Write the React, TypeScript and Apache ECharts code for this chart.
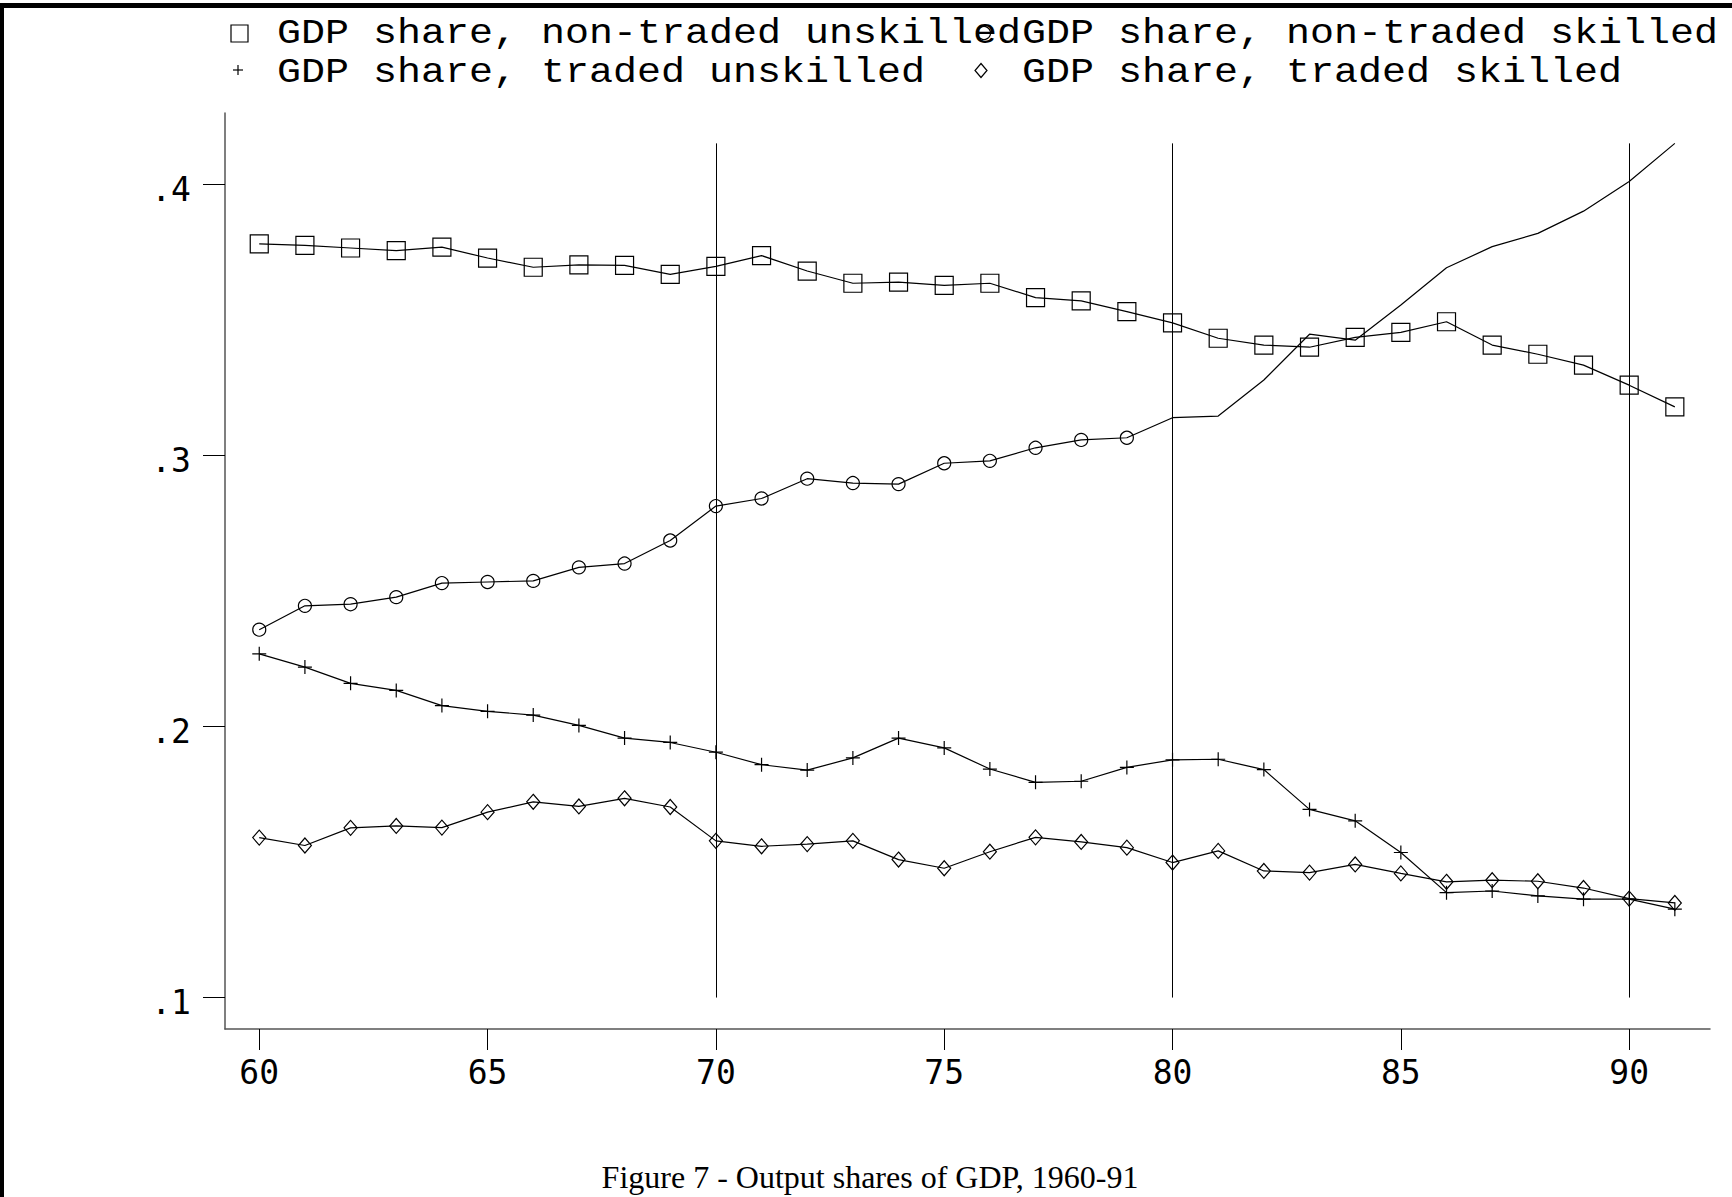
import React, { useEffect, useRef } from 'react';
import * as echarts from 'echarts';

const years = [60, 61, 62, 63, 64, 65, 66, 67, 68, 69, 70, 71, 72, 73, 74, 75, 76, 77, 78, 79, 80, 81, 82, 83, 84, 85, 86, 87, 88, 89, 90, 91];

const nonTradedUnskilled = [0.378, 0.3775, 0.3765, 0.3755, 0.3768, 0.3728, 0.3694, 0.3703, 0.3701, 0.3668, 0.3697, 0.3737, 0.368, 0.3635, 0.3639, 0.3627, 0.3635, 0.3582, 0.357, 0.353, 0.3489, 0.3432, 0.3407, 0.3399, 0.3435, 0.3454, 0.3493, 0.3407, 0.3373, 0.3333, 0.3259, 0.3179];
const nonTradedSkilled = [0.2357, 0.2445, 0.2451, 0.2477, 0.2529, 0.2533, 0.2537, 0.2587, 0.2601, 0.2686, 0.2813, 0.2841, 0.2914, 0.2898, 0.2894, 0.2971, 0.298, 0.3028, 0.3057, 0.3065, 0.3139, 0.3145, 0.3278, 0.3447, 0.3425, 0.3555, 0.3692, 0.377, 0.3819, 0.3901, 0.401, 0.4151];
const tradedUnskilled = [0.2268, 0.2219, 0.2159, 0.2133, 0.2077, 0.2056, 0.2042, 0.2004, 0.1957, 0.1941, 0.1905, 0.1859, 0.1839, 0.1884, 0.1957, 0.1921, 0.1843, 0.1794, 0.1798, 0.1849, 0.1877, 0.1879, 0.1841, 0.1694, 0.1652, 0.1535, 0.1387, 0.1393, 0.1375, 0.1363, 0.1363, 0.1326];
const tradedSkilled = [0.159, 0.1561, 0.1626, 0.1633, 0.1627, 0.1684, 0.1722, 0.1705, 0.1735, 0.1703, 0.1578, 0.1558, 0.1566, 0.1578, 0.1509, 0.1477, 0.1538, 0.1591, 0.1574, 0.1553, 0.1498, 0.1541, 0.1467, 0.1461, 0.1491, 0.1458, 0.1427, 0.1433, 0.1429, 0.1404, 0.1365, 0.1349];

// the non-traded skilled series carries markers only up to this year
const skilledMarkerLastYear = 79;

const seriesNames = [
  'GDP share, non-traded unskilled',
  'GDP share, non-traded skilled',
  'GDP share, traded unskilled',
  'GDP share, traded skilled',
];

const xTickValues = [60, 65, 70, 75, 80, 85, 90];
const xTickLabels = ['60', '65', '70', '75', '80', '85', '90'];
const yTickValues = [0.1, 0.2, 0.3, 0.4];
const yTickLabels = ['.1', '.2', '.3', '.4'];
const refLineYears = [70, 80, 90];

const caption = 'Figure 7 - Output shares of GDP, 1960-91';

const PLUS = 'path://M0,6L12,6M6,0L6,12';

function pairs(vals: number[]) {
  return years.map((y, i) => [y, vals[i]]);
}

function labelFor(values: number[], labels: string[], v: number) {
  const i = values.findIndex((t) => Math.abs(t - v) < 1e-6);
  return i >= 0 ? labels[i] : '';
}

export default function App() {
  const ref = useRef<HTMLDivElement>(null);

  useEffect(() => {
    if (!ref.current) return;
    const chart = echarts.init(ref.current, null, { renderer: 'svg' });

    const allVals = [...nonTradedUnskilled, ...nonTradedSkilled, ...tradedUnskilled, ...tradedSkilled];
    const refTop = Math.max(...allVals);
    const refBottom = yTickValues[0];

    const lineStyle = { color: '#000', width: 1.2 };
    const hollow = { color: 'transparent', borderColor: '#000', borderWidth: 1.2 };

    const legendFont = { fontFamily: '"Liberation Mono", "Courier New", monospace', fontSize: 35, fill: '#000' };
    const legendScale = 1.143;
    const col1 = 277;
    const col2 = 1022;
    const row1 = 34;
    const row2 = 72.5;

    const legendText = (text: string, x: number, y: number) => ({
      type: 'text',
      x,
      y,
      scaleX: legendScale,
      style: {
        text,
        ...legendFont,
        align: 'left',
        verticalAlign: 'middle',
        textAlign: 'left',
        textVerticalAlign: 'middle',
      },
    });

    const option: any = {
      animation: false,
      backgroundColor: '#fff',
      grid: { left: 225, right: 22, top: 113, bottom: 168, containLabel: false },
      xAxis: {
        type: 'value',
        min: 59.25,
        max: 91.77,
        splitLine: { show: false },
        axisLine: { show: true, lineStyle: { color: '#555', width: 1.5 } },
        axisTick: { show: true, length: 21, lineStyle: { color: '#000', width: 1 }, customValues: xTickValues },
        axisLabel: {
          show: true,
          customValues: xTickValues,
          formatter: (v: number) => labelFor(xTickValues, xTickLabels, v),
          fontFamily: '"DejaVu Sans Mono", monospace',
          fontSize: 33,
          color: '#000',
          margin: 27,
        },
      },
      yAxis: {
        type: 'value',
        min: 0.0884,
        max: 0.4263,
        splitLine: { show: false },
        axisLine: { show: true, lineStyle: { color: '#555', width: 1.5 } },
        axisTick: { show: true, length: 22, lineStyle: { color: '#000', width: 1 }, customValues: yTickValues },
        axisLabel: {
          show: true,
          customValues: yTickValues,
          formatter: (v: number) => '{t|' + labelFor(yTickValues, yTickLabels, v) + '}',
          fontFamily: '"DejaVu Sans Mono", monospace',
          fontSize: 33,
          color: '#000',
          margin: 34,
          rich: {
            t: {
              fontFamily: '"DejaVu Sans Mono", monospace',
              fontSize: 33,
              color: '#000',
              padding: [10, 0, 0, 0],
            },
          },
        },
      },
      series: [
        {
          name: seriesNames[0],
          type: 'line',
          data: pairs(nonTradedUnskilled),
          symbol: 'rect',
          symbolSize: 18,
          showAllSymbol: true,
          lineStyle,
          itemStyle: hollow,
          z: 3,
          markLine: {
            silent: true,
            symbol: ['none', 'none'],
            label: { show: false },
            lineStyle: { color: '#000', width: 1, type: 'solid' },
            data: refLineYears.map((yr) => [{ coord: [yr, refBottom] }, { coord: [yr, refTop] }]),
          },
        },
        {
          name: seriesNames[1],
          type: 'line',
          data: years.map((y, i) =>
            y <= skilledMarkerLastYear
              ? { value: [y, nonTradedSkilled[i]] }
              : { value: [y, nonTradedSkilled[i]], symbol: 'none' }
          ),
          symbol: 'circle',
          symbolSize: 13,
          showAllSymbol: true,
          lineStyle,
          itemStyle: hollow,
          z: 3,
        },
        {
          name: seriesNames[2],
          type: 'line',
          data: pairs(tradedUnskilled),
          symbol: PLUS,
          symbolSize: 14,
          showAllSymbol: true,
          lineStyle,
          itemStyle: hollow,
          z: 3,
        },
        {
          name: seriesNames[3],
          type: 'line',
          data: pairs(tradedSkilled),
          symbol: 'diamond',
          symbolSize: [13, 15],
          showAllSymbol: true,
          lineStyle,
          itemStyle: hollow,
          z: 3,
        },
      ],
      graphic: [
        // frame
        { type: 'rect', shape: { x: 0, y: 3, width: 1732, height: 5 }, style: { fill: '#000' } },
        { type: 'rect', shape: { x: 0, y: 3, width: 4, height: 1194 }, style: { fill: '#000' } },
        // legend symbols
        { type: 'rect', shape: { x: 231, y: 25, width: 17, height: 17 }, style: { fill: 'none', stroke: '#000', lineWidth: 1.2 } },
        { type: 'circle', shape: { cx: 984, cy: 33, r: 6.5 }, style: { fill: 'none', stroke: '#000', lineWidth: 1.2 } },
        { type: 'line', shape: { x1: 233, y1: 70, x2: 243, y2: 70 }, style: { stroke: '#000', lineWidth: 1.2 } },
        { type: 'line', shape: { x1: 238, y1: 65, x2: 238, y2: 75 }, style: { stroke: '#000', lineWidth: 1.2 } },
        {
          type: 'polygon',
          shape: { points: [[981, 63.5], [987, 70.5], [981, 77.5], [975, 70.5]] },
          style: { fill: 'none', stroke: '#000', lineWidth: 1.2 },
        },
        // legend texts
        legendText(seriesNames[0], col1, row1),
        legendText(seriesNames[1], col2, row1),
        legendText(seriesNames[2], col1, row2),
        legendText(seriesNames[3], col2, row2),
        // caption
        {
          type: 'text',
          x: 870,
          y: 1177,
          style: {
            text: caption,
            fontFamily: '"Liberation Serif", "Times New Roman", serif',
            fontSize: 32,
            fill: '#000',
            align: 'center',
            verticalAlign: 'middle',
            textAlign: 'center',
            textVerticalAlign: 'middle',
          },
        },
      ],
    };

    chart.setOption(option);
    return () => chart.dispose();
  }, []);

  return (
    <div
      ref={ref}
      style={{ position: 'absolute', left: 0, top: 0, width: 1732, height: 1197, background: '#fff' }}
    />
  );
}
